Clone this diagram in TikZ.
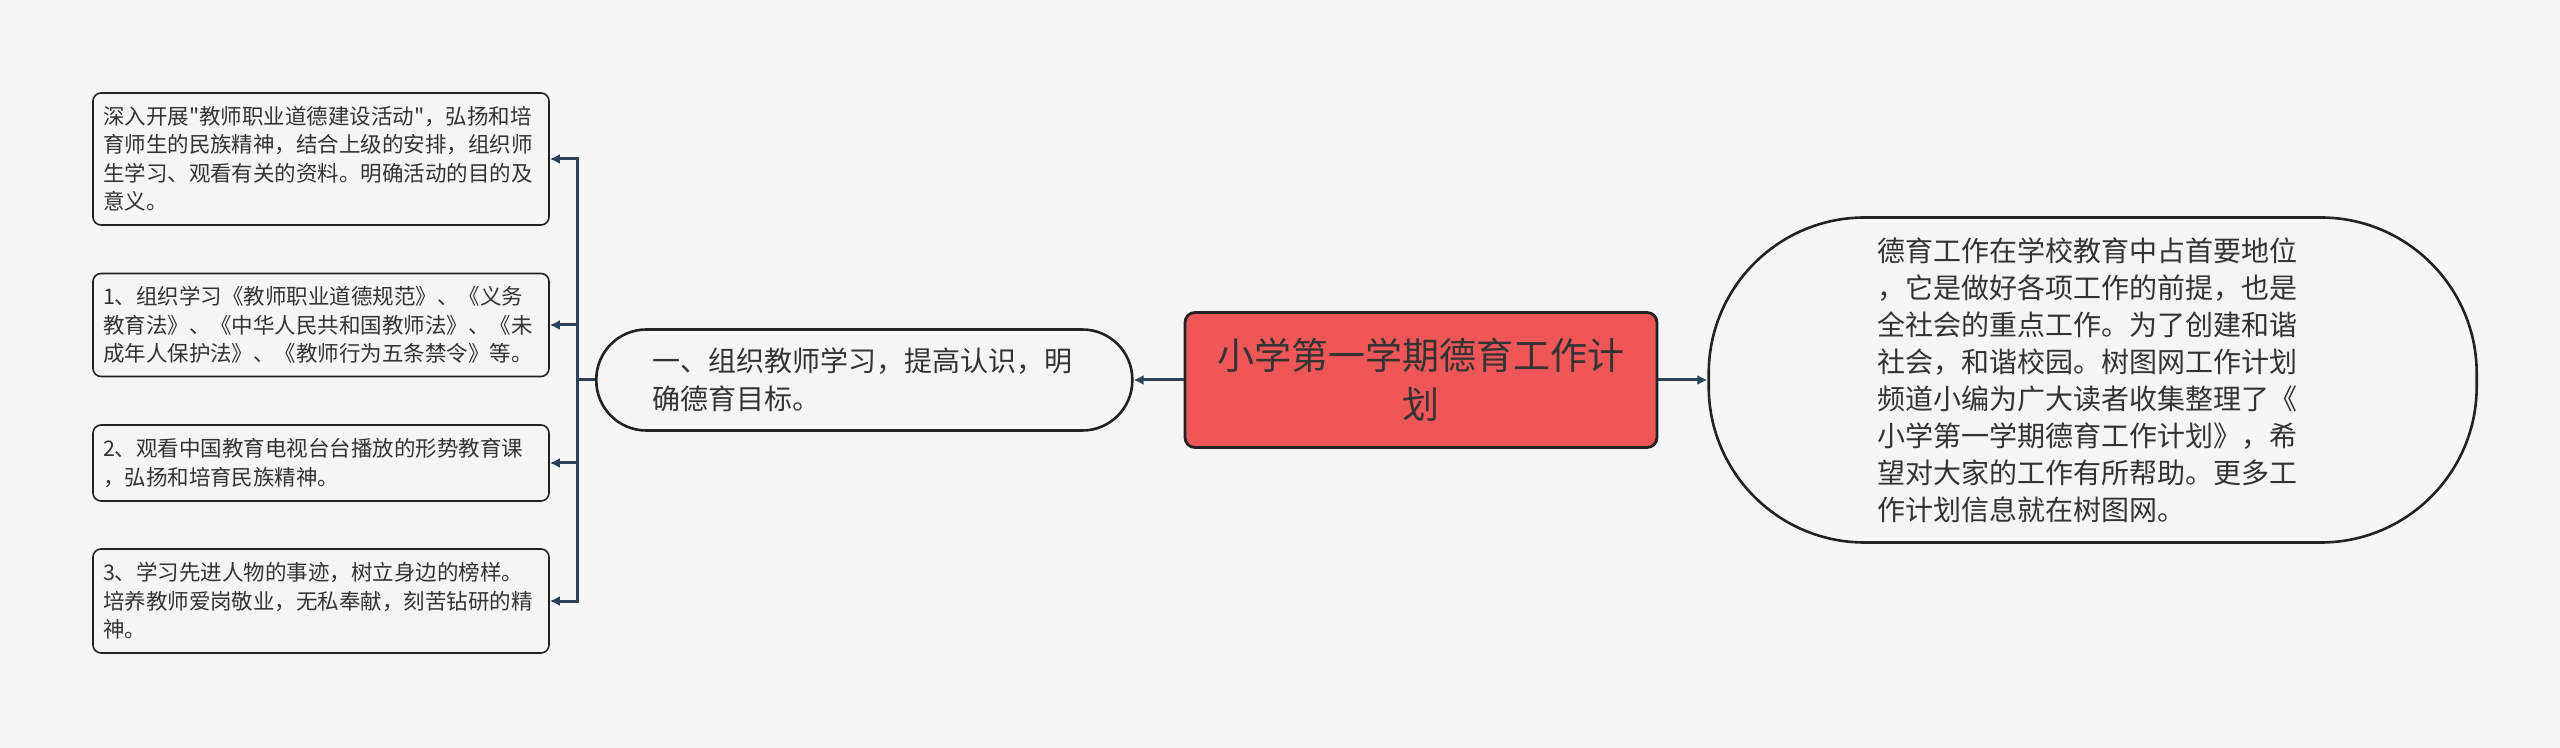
\documentclass[tikz,border=0pt]{standalone}
\usepackage{fontspec}
\setmainfont{Noto Sans CJK SC}[Ligatures=TeXOff]
\usepackage{tikz}
\usetikzlibrary{arrows.meta,positioning}
\definecolor{paper}{HTML}{F5F5F5}
\definecolor{ink}{HTML}{333333}
\definecolor{edge}{HTML}{222222}
\definecolor{wire}{HTML}{2B4259}
\definecolor{rootred}{HTML}{EF5657}

\begin{document}
\begin{tikzpicture}[
  x=0.5pt,y=-0.5pt,
  leafbox/.style={draw=edge,line width=0.8pt,rounded corners=4pt,fill=paper,text=ink,minimum width=228pt,text width=218pt,inner xsep=5pt,align=left,font=\fontsize{10.75pt}{14.25pt}\selectfont},
  topicbox/.style={draw=edge,line width=1.3pt,rounded corners=25pt,fill=paper,text=ink,minimum width=268pt,minimum height=50.5pt,text width=212pt,align=left,font=\fontsize{14pt}{19pt}\selectfont},
  rootbox/.style={draw=edge,line width=1.4pt,rounded corners=5pt,fill=rootred,text=ink,minimum width=236pt,minimum height=67.5pt,text width=210pt,align=center,font=\fontsize{18.5pt}{24.5pt}\selectfont},
  notebox/.style={draw=edge,line width=1.3pt,rounded corners=78pt,fill=paper,text=ink,minimum width=384pt,minimum height=162.5pt,text width=215pt,align=left,font=\fontsize{14pt}{18.5pt}\selectfont},
  link/.style={-{Latex[length=5pt,width=5pt]},line width=1.5pt,draw=wire}
]
  \fill[paper] (0,0) rectangle (2560,748);
  \useasboundingbox (0,0) rectangle (2560,748);

  \node[rootbox] (root) at (1421,380) {小学第一学期德育工作计\\划};
  \node[topicbox,left=25pt of root] (study) {一、组织教师学习，提高认识，明\\确德育目标。};
  \node[notebox,right=24.5pt of root] (note) {德育工作在学校教育中占首要地位\\，它是做好各项工作的前提，也是\\全社会的重点工作。为了创建和谐\\社会，和谐校园。树图网工作计划\\频道小编为广大读者收集整理了《\\小学第一学期德育工作计划》，希\\望对大家的工作有所帮助。更多工\\作计划信息就在树图网。};

  \node[leafbox,minimum height=66pt] (spirit) at (321,159) {深入开展"教师职业道德建设活动"，弘扬和培\\育师生的民族精神，结合上级的安排，组织师\\生学习、观看有关的资料。明确活动的目的及\\意义。};
  \node[leafbox,minimum height=51.5pt] (laws) at (321,325) {1、组织学习《教师职业道德规范》、《义务\\教育法》、《中华人民共和国教师法》、《未\\成年人保护法》、《教师行为五条禁令》等。};
  \node[leafbox,minimum height=38pt] (tv) at (321,463) {2、观看中国教育电视台台播放的形势教育课\\，弘扬和培育民族精神。};
  \node[leafbox,minimum height=52pt] (model) at (321,601) {3、学习先进人物的事迹，树立身边的榜样。\\培养教师爱岗敬业，无私奉献，刻苦钻研的精\\神。};

  \draw[link] (root) -- (study);
  \draw[link] (root) -- (note);
  \draw[link] (study.west) -- ++(-9pt,0) |- (spirit.east);
  \draw[link] (study.west) -- ++(-9pt,0) |- (laws.east);
  \draw[link] (study.west) -- ++(-9pt,0) |- (tv.east);
  \draw[link] (study.west) -- ++(-9pt,0) |- (model.east);
\end{tikzpicture}
\end{document}
